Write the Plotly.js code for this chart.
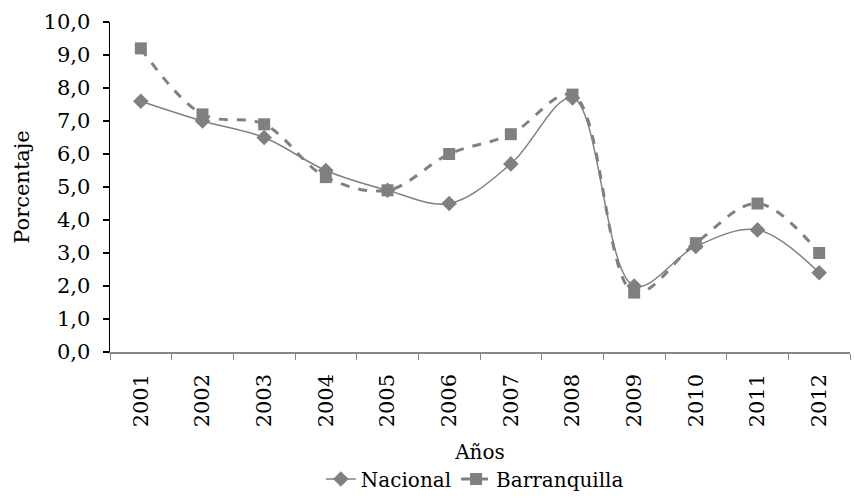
<!DOCTYPE html>
<html>
<head>
<meta charset="utf-8">
<script src="https://cdn.plot.ly/plotly-3.0.1.min.js"></script>
<style>html,body{margin:0;padding:0;background:#fff;}#chart{width:854px;height:503px;}</style>
</head>
<body>
<div id="chart"></div>
<script>
const years = ["2001","2002","2003","2004","2005","2006","2007","2008","2009","2010","2011","2012"];
const nacional = [7.6, 7.0, 6.5, 5.5, 4.9, 4.5, 5.7, 7.7, 2.0, 3.2, 3.7, 2.4];
const barranquilla = [9.2, 7.2, 6.9, 5.3, 4.9, 6.0, 6.6, 7.8, 1.8, 3.3, 4.5, 3.0];
const yTicks = [0,1,2,3,4,5,6,7,8,9,10];

const font = "DejaVu Serif, Liberation Serif, serif";
const gray = "#808080";

const traces = [
  {
    x: years, y: nacional, name: "Nacional", type: "scatter", mode: "lines+markers",
    line: {color: gray, width: 1.5, shape: "spline", smoothing: 1},
    marker: {symbol: "diamond", size: 12, color: gray}
  },
  {
    x: years, y: barranquilla, name: "Barranquilla", type: "scatter", mode: "lines+markers",
    line: {color: gray, width: 3, dash: "dash", shape: "spline", smoothing: 1},
    marker: {symbol: "square", size: 12, color: gray}
  }
];

const layout = {
  width: 854, height: 503,
  margin: {l: 110, r: 4, t: 22, b: 141},
  paper_bgcolor: "#fff", plot_bgcolor: "#fff",
  separators: ",.",
  font: {family: font, size: 20, color: "#000"},
  showlegend: true,
  legend: {orientation: "h", x: 0.493, xanchor: "center", y: -0.385, yanchor: "middle",
           font: {family: font, size: 20, color: "#000"}, tracegroupgap: 0},
  xaxis: {
    type: "category", range: [-0.5, 11.5], tickson: "boundaries",
    showline: true, linecolor: "#868686", linewidth: 1.5,
    ticks: "outside", ticklen: 6, tickcolor: "#868686", tickwidth: 1,
    tickangle: -90, showgrid: false, zeroline: false, ticklabelstandoff: 12,
    tickfont: {family: font, size: 21, color: "#000"},
    title: {text: "Años", standoff: 18, font: {family: font, size: 20, color: "#000"}},
    automargin: false, fixedrange: true
  },
  yaxis: {
    range: [0, 10], tickvals: yTicks, tickformat: ".1f",
    showline: true, linecolor: "#000", linewidth: 1.5,
    ticks: "outside", ticklen: 6, tickcolor: "#000", tickwidth: 1.5,
    showgrid: false, zeroline: false, ticklabelstandoff: 8,
    tickfont: {family: font, size: 21, color: "#000"},
    title: {text: "Porcentaje", standoff: 8, font: {family: font, size: 21, color: "#000"}},
    automargin: false, fixedrange: true
  }
};

Plotly.newPlot("chart", traces, layout, {displayModeBar: false, staticPlot: true});
</script>
</body>
</html>
